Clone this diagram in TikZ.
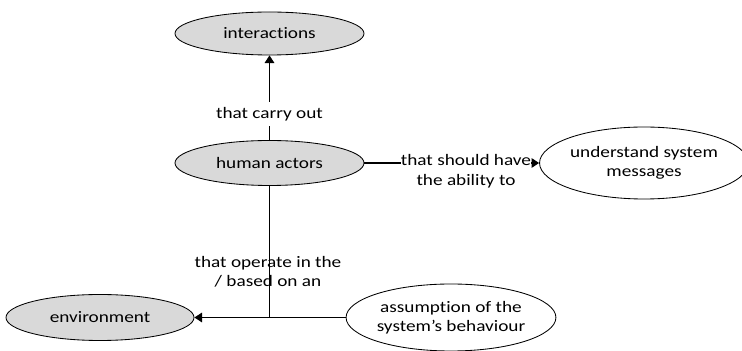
\documentclass[tikz,border=0pt]{standalone}
\usepackage{fontspec}
\setmainfont{Carlito}[FakeStretch=1.2, Ligatures={NoCommon}]
\usepackage{tikz}
\usetikzlibrary{arrows,arrows.meta,shapes,positioning,calc}
\usepackage{xcolor}
\definecolor{cmgray}{RGB}{217,217,217}
\tikzstyle{concept} = [ellipse, draw=black, line width=0.6pt, inner sep=0pt, align=center, font=\fontsize{11.4pt}{13.9pt}\selectfont]
\tikzstyle{shaded} = [concept, fill=cmgray]
\tikzstyle{link} = [line width=0.9pt, -{Triangle[length=1.9mm,width=2.4mm]}]
\tikzstyle{lbl} = [inner sep=1pt, align=center, font=\fontsize{11.4pt}{13.9pt}\selectfont]

\begin{document}
\begin{tikzpicture}
    \useasboundingbox (0,0) rectangle (18.55,8.775);

    % Concepts
    \node[shaded, minimum width=4.725cm, minimum height=1.075cm] (interactions) at (6.7375,7.9375) {interactions};
    \node[shaded, minimum width=4.725cm, minimum height=1.125cm] (human) at (6.7375,4.7) {human actors};
    \node[concept, minimum width=4.85cm, minimum height=1.8cm] (understand) at (16.1,4.7) {understand system\\messages};
    \node[shaded, minimum width=4.7cm, minimum height=1.15cm] (environment) at (2.5,0.8375) {environment};
    \node[concept, minimum width=4.9cm, minimum height=1.675cm] (assumption) at (11.275,0.8375) {assumption of the\\system's behaviour};
    \coordinate (junction) at (human |- assumption);

    % Links
    \draw[link] (human) -- (interactions);
    \node[lbl, fill=white, inner ysep=4pt] (carry) at (6.7375,5.925) {that carry out};

    \draw[link] (human) -- (understand);
    \node[lbl, fill=white, inner sep=0pt] (ability) at (11.65,4.4875) {that should have\\the ability to};

    \draw[line width=0.9pt] (human) -- (junction);
    \draw[link] (assumption) -- (environment);
    \node[lbl] (operate) at (6.7,1.975) {that operate in the\\/ based on an};
\end{tikzpicture}
\end{document}
